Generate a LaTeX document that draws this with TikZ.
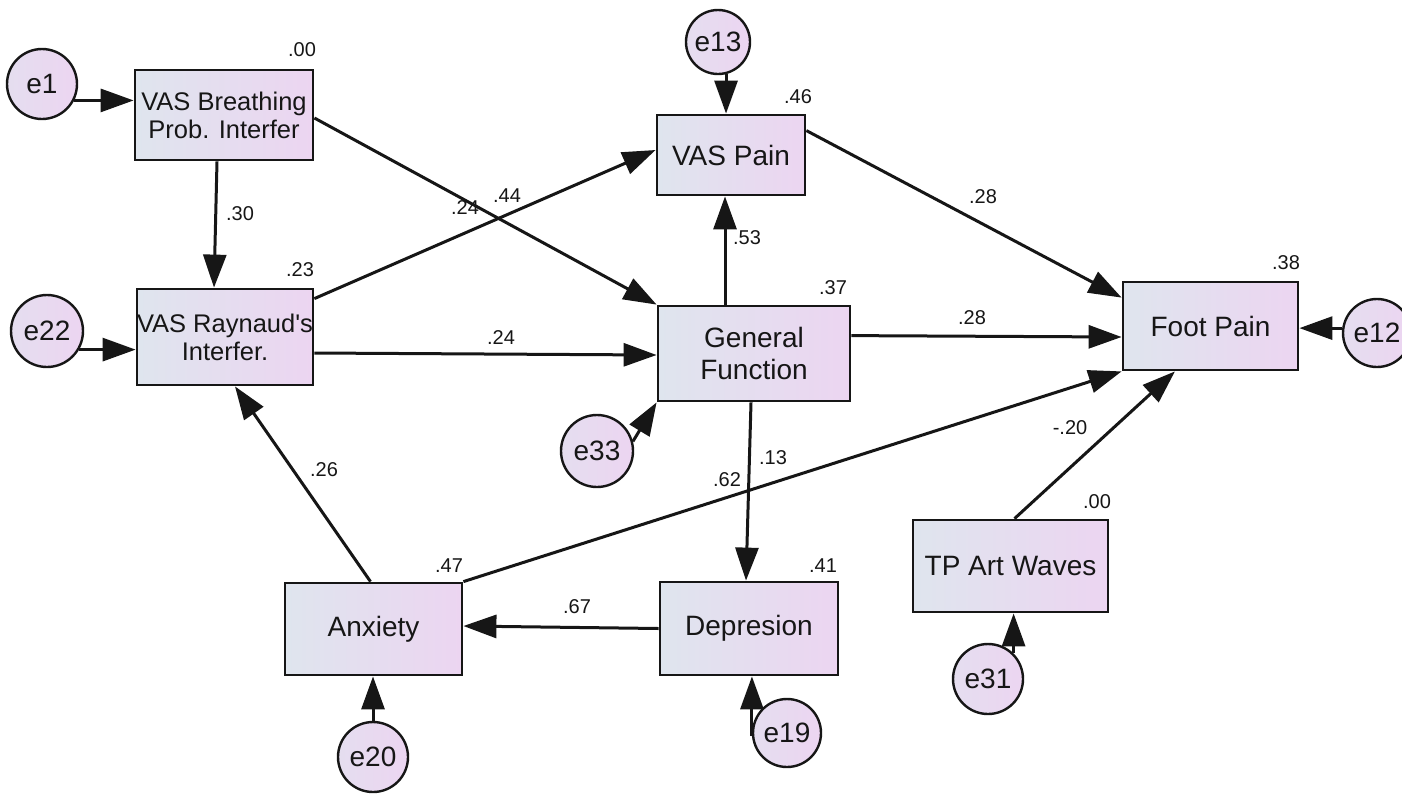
\documentclass[tikz,border=0pt]{standalone}
\usepackage{fontspec}
\setmainfont{Liberation Sans}
\usetikzlibrary{arrows.meta,calc}
\definecolor{fillA}{HTML}{DFE5EE}
\definecolor{fillB}{HTML}{ECD5F1}
\definecolor{ink}{HTML}{161616}
\tikzset{
  var/.style={draw=ink, line width=2.8pt, left color=fillA, right color=fillB,
    inner sep=0pt, align=center, text=ink, font=\fontsize{28}{32}\selectfont},
  varsmall/.style={var, font=\fontsize{25.5}{28}\selectfont},
  err/.style={circle, draw=ink, line width=2.4pt, left color=fillA!55!fillB,
    right color=fillB, inner sep=0pt, text=ink, font=\fontsize{28}{32}\selectfont},
  lbl/.style={inner sep=0pt, text=ink, font=\fontsize{20}{22}\selectfont},
  link/.style={draw=ink, line width=3pt, -{Triangle[length=33pt,width=23pt]}}
}
\begin{document}
\begin{tikzpicture}[x=1pt,y=-1pt]
\path[use as bounding box] (0,0) rectangle (1402,793);

% observed variables
\node[varsmall, minimum width=178pt, minimum height=90pt] (br) at (224,115) {VAS Breathing\\Prob. Interfer};
\node[varsmall, minimum width=174pt, minimum height=96pt] (ry) at (225,337) {VAS Raynaud\textquotesingle s\\Interfer.};
\node[var, minimum width=148pt, minimum height=80pt] (vp) at (731,155) {VAS Pain};
\node[var, minimum width=192pt, minimum height=95pt] (gf) at (754,353.5) {General\\Function};
\node[var, minimum width=175pt, minimum height=88pt] (fp) at (1210.5,326) {Foot Pain};
\node[var, minimum width=195pt, minimum height=92pt] (tp) at (1010.5,566) {TP Art Waves};
\node[var, minimum width=177pt, minimum height=92pt] (ax) at (373.5,629) {Anxiety};
\node[var, minimum width=178pt, minimum height=93pt] (dp) at (749,628.5) {Depresion};

% error terms
\node[err, minimum size=70pt] (e1)  at (42,84)   {e1};
\node[err, minimum size=72pt] (e22) at (47,331)  {e22};
\node[err, minimum size=64pt] (e13) at (718,42)  {e13};
\node[err, minimum size=68pt] (e12) at (1377,333) {e12};
\node[err, minimum size=72pt] (e33) at (597,451) {e33};
\node[err, minimum size=70pt] (e31) at (988,679) {e31};
\node[err, minimum size=68pt] (e19) at (787,733) {e19};
\node[err, minimum size=70pt] (e20) at (373,757) {e20};

% error paths
\draw[link] (e1.-27) -- (e1.-27 -| br.west);
\draw[link] (e22.-30) -- (e22.-30 -| ry.west);
\draw[link] (e13.-76) -- (e13.-76 |- vp.north);
\draw[link] (e12.172) -- (e12.172 -| fp.east);
\draw[link] (e33.15) -- (gf.south west);
\draw[link] (e31.45) -- (e31.45 |- tp.south);
\draw[link] (e19.185) -- (e19.185 |- dp.south);
\draw[link] (e20.north) -- (e20.north |- ax.south);

% structural paths
\draw[link] ($(br.east)+(0,3)$) -- (gf.north west);
\draw[link] ($(br.south)+(-7,0)$) -- ($(ry.north)+(-11,0)$);
\draw[link] ($(ry.north east)+(0,11)$) -- ($(vp.west)+(0,-5)$);
\draw[link] ($(ry.east)+(0,16)$) -- ($(gf.west)+(0,1.5)$);
\draw[link] ($(ax.north)+(-3,0)$) -- ($(ry.south)+(10,0)$);
\draw[link] (ax.north east) -- (fp.south west);
\draw[link] (dp.west) -- ($(ax.east)+(0,-3)$);
\draw[link] ($(gf.south)+(-3,0)$) -- ($(dp.north)+(-3,0)$);
\draw[link] ($(gf.north)+(-29,0)$) -- ($(vp.south)+(-6,0)$);
\draw[link] ($(vp.north east)+(0,17)$) -- ($(fp.north west)+(0,17)$);
\draw[link] ($(gf.north east)+(0,31)$) -- ($(fp.west)+(0,11)$);
\draw[link] ($(tp.north)+(4,0)$) -- ($(fp.south west)!0.3!(fp.south east)$);

% squared multiple correlations
\node[lbl] (r2br) at (302,50)   {.00};
\node[lbl] (r2ry) at (300,270)  {.23};
\node[lbl] (r2vp) at (798,97)   {.46};
\node[lbl] (r2gf) at (833,288)  {.37};
\node[lbl] (r2fp) at (1286,263) {.38};
\node[lbl] (r2tp) at (1097,502) {.00};
\node[lbl] (r2ax) at (449,566)  {.47};
\node[lbl] (r2dp) at (823,566)  {.41};

% path coefficients
\node[lbl] (c1)  at (240,214)  {.30};
\node[lbl] (c2)  at (465,208)  {.24};
\node[lbl] (c3)  at (507,196)  {.44};
\node[lbl] (c4)  at (501,338)  {.24};
\node[lbl] (c5)  at (747,238)  {.53};
\node[lbl] (c6)  at (983,197)  {.28};
\node[lbl] (c7)  at (972,318)  {.28};
\node[lbl] (c8)  at (773,458)  {.13};
\node[lbl] (c9)  at (727,480)  {.62};
\node[lbl] (c10) at (1070,428) {-.20};
\node[lbl] (c11) at (324,470)  {.26};
\node[lbl] (c12) at (577,607)  {.67};
\end{tikzpicture}
\end{document}
